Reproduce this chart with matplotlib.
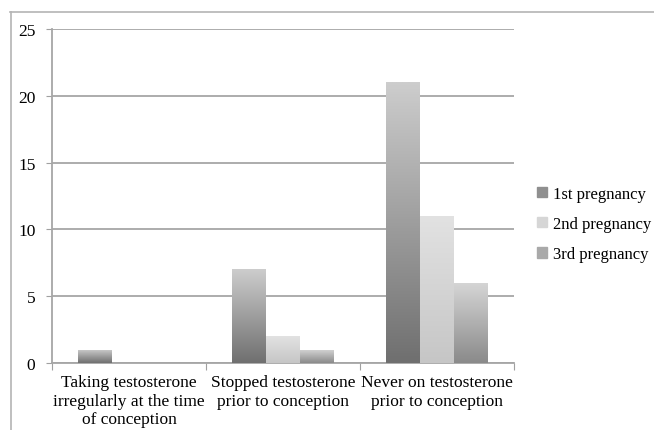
import numpy as np
import matplotlib
matplotlib.use("Agg")
import matplotlib.pyplot as plt
from matplotlib.colors import LinearSegmentedColormap
from matplotlib.lines import Line2D

categories = ["Taking testosterone\nirregularly at the time\nof conception",
              "Stopped testosterone\nprior to conception",
              "Never on testosterone\nprior to conception"]
series_names = ["1st pregnancy", "2nd pregnancy", "3rd pregnancy"]
first = [1, 7, 21]
second = [0, 2, 11]
third = [0, 1, 6]
yticks = [0, 5, 10, 15, 20, 25]

grads = [("#cdcdcd", "#6f6f6f"), ("#e2e2e2", "#c6c6c6"), ("#d6d6d6", "#8a8a8a")]
mids = ["#8f8f8f", "#d6d6d6", "#a9a9a9"]

plt.rcParams['font.family'] = ['Liberation Serif', 'DejaVu Serif']

fig = plt.figure(figsize=(6.54, 4.31), dpi=100)
ax = fig.add_axes([52/654, 1-364/431, (514-52)/654, (364-30)/431])

x = np.arange(len(categories))
w = 0.22
all_series = [first, second, third]
for i, vals in enumerate(all_series):
    bars = ax.bar(x + (i-1)*w, vals, width=w, color=mids[i], label=series_names[i], zorder=3)
    cmap = LinearSegmentedColormap.from_list("g%d" % i, [grads[i][1], grads[i][0]])
    for b in bars:
        h = b.get_height()
        if h <= 0:
            continue
        b.set_facecolor("none")
        b.set_edgecolor("none")
        grad = np.linspace(0, 1, 256).reshape(-1, 1)
        im = ax.imshow(grad, cmap=cmap, origin="lower", aspect="auto",
                       extent=[b.get_x(), b.get_x()+b.get_width(), 0, h], zorder=3)
        im.set_clip_path(b)

ax.set_xlim(-0.5, 2.5)
ax.set_ylim(0, 25)
ax.set_yticks(yticks)
ax.set_yticklabels([str(t) for t in yticks], fontsize=12.5)
ax.set_xticks([-0.5, 0.5, 1.5, 2.5])
ax.set_xticklabels([])
ax.set_xticks(x, minor=True)
ax.set_xticklabels(categories, minor=True, fontsize=12.5, linespacing=1.22)
ax.tick_params(axis='x', which='minor', length=0, pad=8)
ax.tick_params(axis='x', which='major', length=5, color="#a0a0a0", direction='out')
ax.tick_params(axis='y', length=4, color="#a0a0a0", pad=8)
ax.yaxis.grid(True, color="#a6a6a6", linewidth=1.3, zorder=0)
ax.set_axisbelow(True)
for s in ["top", "right"]:
    ax.spines[s].set_visible(False)
for s in ["left", "bottom"]:
    ax.spines[s].set_color("#a6a6a6")
    ax.spines[s].set_linewidth(1.3)

handles = [plt.Rectangle((0, 0), 1, 1, color=c) for c in mids]
fig.legend(handles, series_names, loc="center left", bbox_to_anchor=(537/654, 1-225/431),
           frameon=False, fontsize=12, handlelength=0.6, handleheight=0.6,
           handletextpad=0.35, labelspacing=0.85, borderpad=0, borderaxespad=0)

fig.add_artist(Line2D([10/654, 1], [1-13/431, 1-13/431], color="#b4b4b4", linewidth=1.2,
                      transform=fig.transFigure))
fig.add_artist(Line2D([11/654, 11/654], [0, 1-13/431], color="#b4b4b4", linewidth=1.2,
                      transform=fig.transFigure))

fig.savefig("out.png", dpi=100)
